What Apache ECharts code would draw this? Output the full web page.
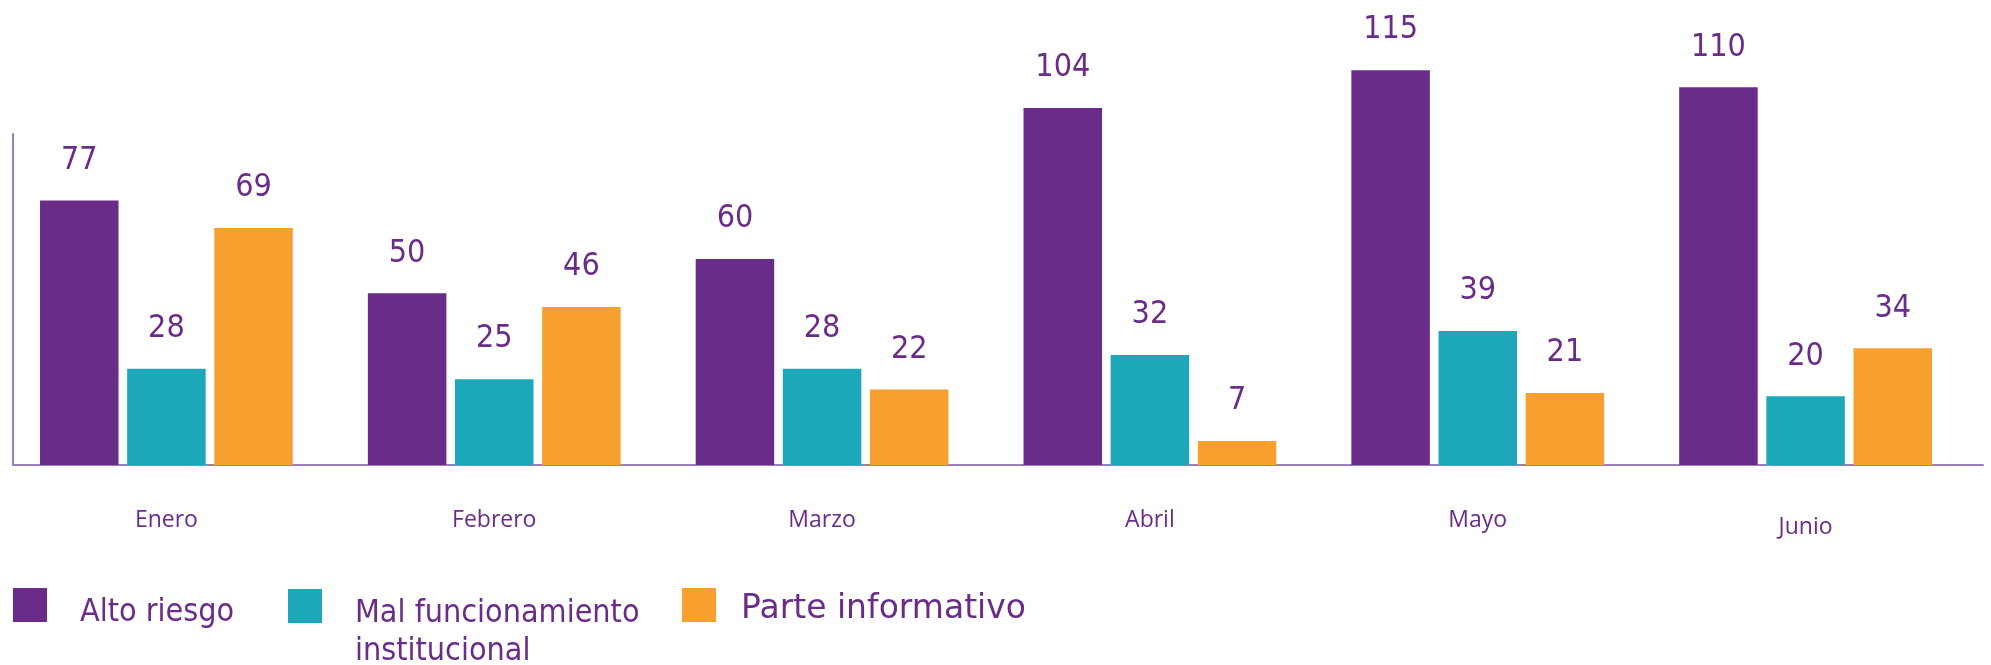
<!DOCTYPE html>
<html>
<head>
<meta charset="utf-8">
<script src="https://cdn.jsdelivr.net/npm/echarts@6/dist/echarts.min.js"></script>
<style>
  html, body { margin: 0; padding: 0; background: #fff; }
  #chart { width: 1991px; height: 665px; }
</style>
</head>
<body>
<div id="chart"></div>
<script>
// datos del gráfico
const months = ['Enero', 'Febrero', 'Marzo', 'Abril', 'Mayo', 'Junio'];
const altoRiesgo = [77, 50, 60, 104, 115, 110];
const malFuncionamiento = [28, 25, 28, 32, 39, 20];
const parteInformativo = [69, 46, 22, 7, 21, 34];

const PURPLE = '#6A2C89';
const TEAL = '#1DA8B9';
const ORANGE = '#F7A030';
const AXIS = '#9C7EB8';
const numFont = "'Liberation Sans Narrow', 'DejaVu Sans Condensed', sans-serif";
const condFont = "'DejaVu Sans Condensed', 'DejaVu Sans', sans-serif";
const wideFont = "'DejaVu Sans', sans-serif";

const chart = echarts.init(document.getElementById('chart'));

const barSeries = (name, data, color) => ({
  name,
  type: 'bar',
  xAxisIndex: 1,
  yAxisIndex: 1,
  data,
  barWidth: 78.5,
  barGap: '11%',
  clip: false,
  itemStyle: { color },
  label: {
    show: true,
    position: 'top',
    distance: 24,
    color: PURPLE,
    fontFamily: numFont,
    fontSize: 32
  }
});

// una leyenda por serie, colocada a mano como en el original
// "spacer" = línea vacía arriba que baja el texto respecto al cuadro
const legendItem = (left, top, name, padLeft, font, size, spacer, lines) => ({
  left,
  top,
  padding: 0,
  itemWidth: 34,
  itemHeight: 34,
  icon: 'rect',
  selectedMode: false,
  data: [name],
  formatter: () => '{s| }\n' + lines.map(l => '{t|' + l + '}').join('\n'),
  textStyle: {
    color: PURPLE,
    padding: [0, 0, 0, padLeft],
    rich: {
      s: { lineHeight: spacer, fontSize: 8 },
      t: { color: PURPLE, fontFamily: font, fontSize: size, lineHeight: 38 }
    }
  }
});

const option = {
  animation: false,
  backgroundColor: '#fff',
  grid: [
    // solo para las líneas de los ejes
    { left: 13, right: 8, top: 134, bottom: 200 },
    // barras (grupos un poco corridos a la izquierda)
    { left: 2.5, right: 21.5, top: 134, bottom: 200 }
  ],
  xAxis: [
    {
      gridIndex: 0,
      type: 'category',
      data: months,
      axisLine: { lineStyle: { color: AXIS, width: 2 } },
      axisTick: { show: false },
      axisLabel: { show: false }
    },
    {
      gridIndex: 1,
      type: 'category',
      data: months,
      axisLine: { show: false },
      axisTick: { show: false },
      axisLabel: {
        margin: 44,
        color: PURPLE,
        fontFamily: "'Open Sans', sans-serif",
        fontSize: 23,
        lineHeight: 23,
        formatter: v => (v === 'Junio' ? '{low|' + v + '}' : v),
        rich: {
          low: { lineHeight: 37, color: PURPLE, fontFamily: "'Open Sans', sans-serif", fontSize: 23 }
        }
      }
    }
  ],
  yAxis: [
    {
      gridIndex: 0,
      type: 'value',
      min: 0,
      max: 1,
      axisLine: { show: true, lineStyle: { color: AXIS, width: 2 } },
      axisTick: { show: false },
      axisLabel: { show: false },
      splitLine: { show: false }
    },
    {
      gridIndex: 1,
      type: 'value',
      min: 0,
      max: 96.4,
      show: false
    }
  ],
  legend: [
    legendItem(13, 582, 'Alto riesgo', 28, condFont, 32, 16, ['Alto riesgo']),
    legendItem(288, 564, 'Mal funcionamiento institucional', 28, condFont, 32, 54,
      ['Mal funcionamiento', 'institucional']),
    legendItem(682, 582, 'Parte informativo', 20, wideFont, 33, 8, ['Parte informativo'])
  ],
  series: [
    barSeries('Alto riesgo', altoRiesgo, PURPLE),
    barSeries('Mal funcionamiento institucional', malFuncionamiento, TEAL),
    barSeries('Parte informativo', parteInformativo, ORANGE)
  ]
};

chart.setOption(option);
</script>
</body>
</html>
